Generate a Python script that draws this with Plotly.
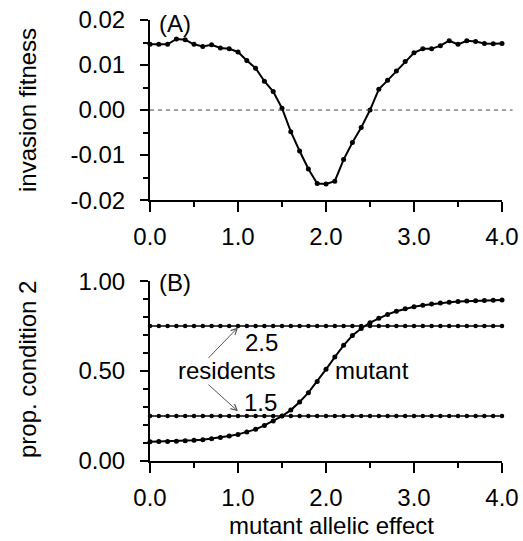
import plotly.graph_objects as go

# ---------------- data ----------------
effect = [round(i * 0.1, 1) for i in range(41)]

invasion_fitness = [
    0.0146, 0.0146, 0.0146, 0.0158, 0.0156, 0.0146, 0.0141, 0.0145, 0.0138, 0.0136,
    0.0129, 0.0110, 0.0093, 0.0064, 0.0041, 0.0004, -0.0048, -0.0091, -0.0131, -0.0163,
    -0.0164, -0.0158, -0.0110, -0.0072, -0.0039, 0.0000, 0.0046, 0.0066, 0.0087, 0.0108,
    0.0127, 0.0136, 0.0136, 0.0143, 0.0154, 0.0146, 0.0154, 0.0152, 0.0148, 0.0147, 0.0148,
]

resident_25 = [0.75] * 41
resident_15 = [0.25] * 41

mutant = [
    0.107, 0.108, 0.109, 0.110, 0.112, 0.115, 0.118, 0.124, 0.130, 0.139,
    0.148, 0.161, 0.176, 0.198, 0.222, 0.250, 0.283, 0.328, 0.380, 0.442,
    0.510, 0.578, 0.643, 0.698, 0.737, 0.769, 0.794, 0.815, 0.833, 0.847,
    0.858, 0.866, 0.873, 0.879, 0.883, 0.887, 0.889, 0.891, 0.893, 0.894, 0.895,
]

x_ticks = [0, 1, 2, 3, 4]
x_ticktext = ["0.0", "1.0", "2.0", "3.0", "4.0"]
a_ticks = [-0.02, -0.01, 0.0, 0.01, 0.02]
a_ticktext = ["-0.02", "-0.01", "0.00", "0.01", "0.02"]
b_ticks = [0.0, 0.5, 1.0]
b_ticktext = ["0.00", "0.50", "1.00"]

# ---------------- figure ----------------
FONT = "Liberation Sans, Arial, Helvetica, sans-serif"
W, H = 523, 541
L, R, T, B = 150, 21, 20, 80

fig = go.Figure()

line_style = dict(color="black", width=2)

fig.add_trace(go.Scatter(x=effect, y=invasion_fitness, mode="lines+markers",
                         line=line_style, marker=dict(color="black", size=5),
                         cliponaxis=False, xaxis="x", yaxis="y"))
fig.add_trace(go.Scatter(x=effect, y=resident_25, mode="lines+markers",
                         line=dict(color="black", width=1.5), marker=dict(color="black", size=4.5),
                         cliponaxis=False, xaxis="x2", yaxis="y2"))
fig.add_trace(go.Scatter(x=effect, y=resident_15, mode="lines+markers",
                         line=dict(color="black", width=1.5), marker=dict(color="black", size=4.5),
                         cliponaxis=False, xaxis="x2", yaxis="y2"))
fig.add_trace(go.Scatter(x=effect, y=mutant, mode="lines+markers",
                         line=line_style, marker=dict(color="black", size=5),
                         cliponaxis=False, xaxis="x2", yaxis="y2"))

axis_common = dict(showline=True, linecolor="black", linewidth=2, ticks="outside",
                   tickcolor="black", tickwidth=2, showgrid=False, zeroline=False,
                   automargin=False,
                   tickfont=dict(family=FONT, size=24, color="black"))

xa = dict(axis_common, range=[0, 4], tickvals=x_ticks, ticktext=x_ticktext, ticklen=10,
          minor=dict(dtick=0.5, ticklen=5, tickwidth=2, tickcolor="black", ticks="outside",
                     showgrid=False),
          ticklabelstandoff=4)

fig.update_layout(
    template="none",
    width=W, height=H,
    margin=dict(l=L, r=R, t=T, b=B, autoexpand=False),
    paper_bgcolor="white", plot_bgcolor="white",
    showlegend=False,
    font=dict(family=FONT, size=24, color="black"),
    xaxis=dict(xa, domain=[0, 1], anchor="y"),
    yaxis=dict(axis_common, domain=[0.5916, 1], range=[-0.02, 0.02], anchor="x",
               tickvals=a_ticks, ticktext=a_ticktext, ticklen=8,
               minor=dict(dtick=0.005, ticklen=5, tickwidth=2, tickcolor="black",
                          ticks="outside", showgrid=False),
               ticklabelstandoff=10),
    xaxis2=dict(xa, domain=[0, 1], anchor="y2"),
    yaxis2=dict(axis_common, domain=[0, 0.4078], range=[0, 1], anchor="x2",
                tickvals=b_ticks, ticktext=b_ticktext, ticklen=8,
                minor=dict(dtick=0.1, ticklen=5, tickwidth=2, tickcolor="black",
                           ticks="outside", showgrid=False),
                ticklabelstandoff=10),
)

# dashed zero line in panel A
fig.add_shape(type="line", xref="x domain", yref="y domain", x0=0, x1=1.03, y0=0.5, y1=0.5,
              line=dict(color="#444444", width=1, dash="4px,4px"), layer="above")

# panel labels and texts
txt = dict(showarrow=False, font=dict(family=FONT, size=24, color="black"))
fig.add_annotation(text="(A)", x=0.28, y=0.0193, xref="x", yref="y", **txt)
fig.add_annotation(text="(B)", x=0.28, y=0.99, xref="x2", yref="y2", **txt)
fig.add_annotation(text="2.5", x=1.27, y=0.661, xref="x2", yref="y2", **txt)
fig.add_annotation(text="1.5", x=1.25, y=0.328, xref="x2", yref="y2", **txt)
fig.add_annotation(text="residents", x=0.87, y=0.504, xref="x2", yref="y2", **txt)
fig.add_annotation(text="mutant", x=2.52, y=0.504, xref="x2", yref="y2", **txt)

# arrows from "residents" to the resident lines
arrow = dict(showarrow=True, arrowhead=5, arrowsize=1.2, arrowwidth=1, arrowcolor="#555555",
             xref="x2", yref="y2", axref="x2", ayref="y2", text="")
fig.add_annotation(x=1.0, y=0.743, ax=0.648, ay=0.565, **arrow)
fig.add_annotation(x=1.0, y=0.276, ax=0.648, ay=0.432, **arrow)

# axis titles (positions given in pixels, converted to paper coordinates)
pw, ph = W - L - R, H - T - B


def px(xp, yp):
    return (xp - L) / pw, (H - B - yp) / ph


tf = dict(family=FONT, size=24, color="black")
x0, y0 = px(27, 110)
fig.add_annotation(text="invasion fitness", textangle=-90, x=x0, y=y0, xref="paper",
                   yref="paper", showarrow=False, font=tf, xanchor="center", yanchor="middle")
x0, y0 = px(27, 370)
fig.add_annotation(text="prop. condition 2", textangle=-90, x=x0, y=y0, xref="paper",
                   yref="paper", showarrow=False, font=tf, xanchor="center", yanchor="middle")
x0, y0 = px(331, 525)
fig.add_annotation(text="mutant allelic effect", x=x0, y=y0, xref="paper", yref="paper",
                   showarrow=False, font=tf, xanchor="center", yanchor="middle")

fig.write_html(
    "out.html",
    config={"displayModeBar": False},
    post_script="document.body.style.margin='0';document.body.style.overflow='hidden';",
)
